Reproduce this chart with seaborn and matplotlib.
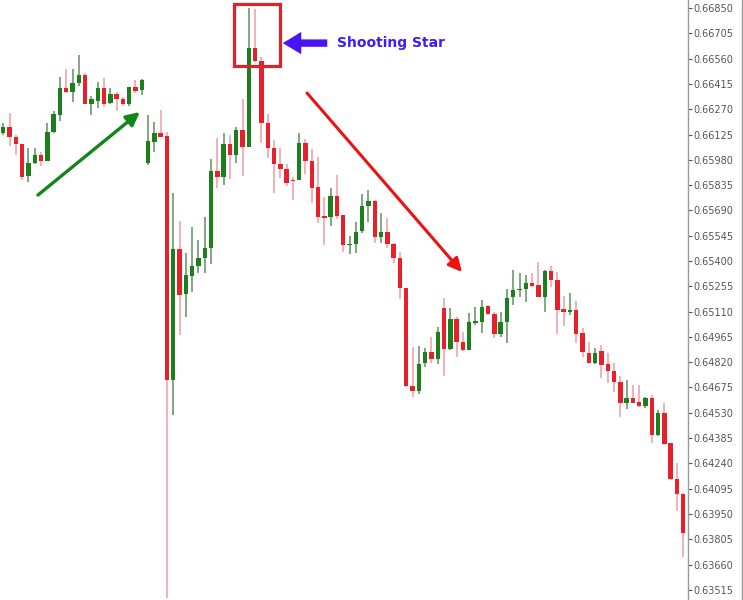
import matplotlib
matplotlib.use("Agg")
import matplotlib.pyplot as plt
import numpy as np
import pandas as pd
import seaborn as sns
from matplotlib.lines import Line2D
from matplotlib.patches import Rectangle

# OHLC, one entry per candle (left to right)
opens = [
    0.66134, 0.66166, 0.66112, 0.66069, 0.65887, 0.65963, 0.66007, 0.65973, 0.66141, 0.66237,
    0.66390, 0.66367, 0.66418, 0.66468, 0.66300, 0.66319, 0.66390, 0.66307, 0.66357, 0.66328,
    0.66298, 0.66396, 0.66380, 0.65960, 0.66084, 0.66132, 0.66116, 0.64718, 0.65467, 0.65211,
    0.65314, 0.65373, 0.65419, 0.65473, 0.65916, 0.65883, 0.66069, 0.66007, 0.66151, 0.66055,
    0.66619, 0.66546, 0.66193, 0.66046, 0.65956, 0.65926, 0.65864, 0.65864, 0.66075, 0.65975,
    0.65822, 0.65660, 0.65650, 0.65774, 0.65664, 0.65492, 0.65496, 0.65572, 0.65717, 0.65746,
    0.65539, 0.65568, 0.65495, 0.65416, 0.65244, 0.64686, 0.64655, 0.64814, 0.64880, 0.64840,
    0.65133, 0.64897, 0.65065, 0.64938, 0.64890, 0.65046, 0.65052, 0.65142, 0.65095, 0.64982,
    0.65052, 0.65192, 0.65234, 0.65238, 0.65272, 0.65262, 0.65195, 0.65344, 0.65293, 0.65123,
    0.65108, 0.65119, 0.64986, 0.64874, 0.64814, 0.64886, 0.64808, 0.64770, 0.64708, 0.64588,
    0.64613, 0.64594, 0.64569, 0.64613, 0.64403, 0.64531, 0.64355, 0.64149, 0.64062,
]
highs = [
    0.66191, 0.66250, 0.66122, 0.66071, 0.66046, 0.66046, 0.66026, 0.66189, 0.66261, 0.66453,
    0.66499, 0.66499, 0.66581, 0.66479, 0.66346, 0.66428, 0.66447, 0.66390, 0.66370, 0.66342,
    0.66399, 0.66437, 0.66441, 0.66237, 0.66198, 0.66265, 0.66141, 0.65788, 0.65631, 0.65444,
    0.65593, 0.65520, 0.65654, 0.65983, 0.66103, 0.66132, 0.66122, 0.66170, 0.66327, 0.66848,
    0.66842, 0.66567, 0.66241, 0.66093, 0.66046, 0.65956, 0.65883, 0.66132, 0.66097, 0.66040,
    0.65994, 0.65768, 0.65817, 0.65893, 0.65666, 0.65543, 0.65625, 0.65784, 0.65807, 0.65750,
    0.65673, 0.65645, 0.65505, 0.65452, 0.65246, 0.64909, 0.64913, 0.64900, 0.64963, 0.65020,
    0.65186, 0.65133, 0.65081, 0.64995, 0.65100, 0.65138, 0.65176, 0.65148, 0.65109, 0.65109,
    0.65238, 0.65348, 0.65333, 0.65320, 0.65333, 0.65396, 0.65348, 0.65371, 0.65339, 0.65198,
    0.65215, 0.65171, 0.65014, 0.64938, 0.64901, 0.64919, 0.64871, 0.64817, 0.64741, 0.64718,
    0.64689, 0.64689, 0.64622, 0.64632, 0.64546, 0.64588, 0.64359, 0.64244, 0.64069,
]
lows = [
    0.66122, 0.66059, 0.66007, 0.65864, 0.65854, 0.65956, 0.65944, 0.65971, 0.66132, 0.66204,
    0.66361, 0.66313, 0.66403, 0.66298, 0.66237, 0.66275, 0.66284, 0.66300, 0.66261, 0.66290,
    0.66290, 0.66361, 0.66351, 0.65950, 0.66026, 0.66110, 0.63469, 0.64517, 0.64976, 0.65081,
    0.65224, 0.65330, 0.65333, 0.65383, 0.65817, 0.65836, 0.65868, 0.65960, 0.65887, 0.66053,
    0.66542, 0.66078, 0.65989, 0.65791, 0.65874, 0.65830, 0.65750, 0.65862, 0.65899, 0.65734,
    0.65620, 0.65492, 0.65601, 0.65639, 0.65453, 0.65440, 0.65444, 0.65562, 0.65625, 0.65501,
    0.65505, 0.65473, 0.65387, 0.65182, 0.64680, 0.64622, 0.64638, 0.64794, 0.64815, 0.64810,
    0.64739, 0.64890, 0.64852, 0.64886, 0.64888, 0.65033, 0.64986, 0.65090, 0.64957, 0.64966,
    0.64932, 0.65148, 0.65195, 0.65167, 0.65253, 0.65192, 0.65109, 0.65253, 0.64982, 0.65028,
    0.65090, 0.64928, 0.64852, 0.64814, 0.64810, 0.64728, 0.64703, 0.64651, 0.64508, 0.64550,
    0.64584, 0.64565, 0.64556, 0.64355, 0.64397, 0.64345, 0.64145, 0.63967, 0.63705,
]
closes = [
    0.66166, 0.66112, 0.66069, 0.65883, 0.65963, 0.66007, 0.65975, 0.66141, 0.66242, 0.66390,
    0.66367, 0.66418, 0.66468, 0.66300, 0.66327, 0.66390, 0.66298, 0.66357, 0.66328, 0.66298,
    0.66396, 0.66376, 0.66437, 0.66089, 0.66132, 0.66112, 0.64718, 0.65467, 0.65205, 0.65320,
    0.65373, 0.65419, 0.65473, 0.65916, 0.65883, 0.66069, 0.66007, 0.66151, 0.66055, 0.66619,
    0.66548, 0.66193, 0.66046, 0.65956, 0.65926, 0.65849, 0.65858, 0.66075, 0.65975, 0.65817,
    0.65654, 0.65648, 0.65774, 0.65660, 0.65492, 0.65499, 0.65568, 0.65715, 0.65746, 0.65539,
    0.65568, 0.65495, 0.65416, 0.65244, 0.64686, 0.64657, 0.64811, 0.64880, 0.64840, 0.64995,
    0.64897, 0.65066, 0.64938, 0.64890, 0.65052, 0.65058, 0.65138, 0.65095, 0.64982, 0.65052,
    0.65190, 0.65234, 0.65238, 0.65272, 0.65258, 0.65195, 0.65344, 0.65293, 0.65119, 0.65109,
    0.65119, 0.64979, 0.64880, 0.64817, 0.64871, 0.64804, 0.64770, 0.64708, 0.64588, 0.64613,
    0.64588, 0.64569, 0.64613, 0.64403, 0.64531, 0.64351, 0.64149, 0.64062, 0.63839,
]

tick_start = 0.63515
tick_step = 0.00145
n_ticks = 24
star_idx = 40  # the shooting star candle

UP = "#1b7f1b"
DOWN = "#e8202a"
UP_WICK = "#5f905f"
DOWN_WICK = "#f09aa3"

df = pd.DataFrame({"open": opens, "high": highs, "low": lows, "close": closes})
df["idx"] = np.arange(len(df))
df["up"] = df["close"] >= df["open"]
df["bottom"] = df[["open", "close"]].min(axis=1)
df["height"] = (df["close"] - df["open"]).abs().clip(lower=0.00006)

sns.set_theme(style="white")
plt.rcParams["font.family"] = ["DejaVu Sans"]

fig = plt.figure(figsize=(7.43, 6.0), dpi=100)
ax = fig.add_axes([0, 0, 688 / 743, 1])

wick_colors = np.where(df["up"], UP_WICK, DOWN_WICK)
ax.vlines(df["idx"], df["low"], df["high"], colors=wick_colors, lw=1.1, zorder=1)
ax.bar(df["idx"], df["height"], bottom=df["bottom"], width=0.7,
       color=np.where(df["up"], UP, DOWN), linewidth=0, zorder=2)

ax.set_xlim(-0.52, 108.75)
ax.set_ylim(0.63457, 0.66896)

ticks = np.round(tick_start + tick_step * np.arange(n_ticks), 5)
ax.set_yticks(ticks)
ax.set_yticklabels([f"{t:.5f}" for t in ticks])
ax.yaxis.tick_right()
ax.tick_params(axis="y", direction="out", length=3, width=0.8, colors="#555555",
               labelsize=7, pad=1, labelcolor="#555555")
ax.set_xticks([])
for side in ("left", "top", "bottom"):
    ax.spines[side].set_visible(False)
ax.spines["right"].set_color("#9a9a9a")
ax.spines["right"].set_linewidth(1.0)

# shooting star box
box_left = star_idx - 3.38
ax.add_patch(Rectangle((box_left, 0.66518), 7.3, 0.00355, fill=False,
                       edgecolor="#d9262c", lw=2.3, zorder=3))

# blue pointer and label
ax.annotate("", xy=(star_idx + 3.95, 0.66649), xytext=(star_idx + 11.9, 0.66649),
            arrowprops=dict(arrowstyle="simple,head_length=0.95,head_width=1.15,tail_width=0.38",
                            color="#4a14f5", lw=0, mutation_scale=14), zorder=4)
ax.text(star_idx + 13.0, 0.66649, "Shooting Star", color="#3d1cf5", fontsize=10,
        fontweight="bold", va="center", ha="left")

# trend arrows
ax.annotate("", xy=(21.7, 0.66254), xytext=(5.5, 0.65778),
            arrowprops=dict(arrowstyle="-|>", color="#12861a", lw=2.4, mutation_scale=20,
                            shrinkA=0, shrinkB=0))
ax.annotate("", xy=(72.85, 0.65337), xytext=(48.24, 0.66363),
            arrowprops=dict(arrowstyle="-|>", color="#ee1111", lw=2.2, mutation_scale=20,
                            shrinkA=0, shrinkB=0))

fig.add_artist(Line2D([741.5 / 743, 741.5 / 743], [0, 1], color="#9a9a9a", lw=1.0,
                      transform=fig.transFigure))

fig.savefig("out.png", dpi=100)
